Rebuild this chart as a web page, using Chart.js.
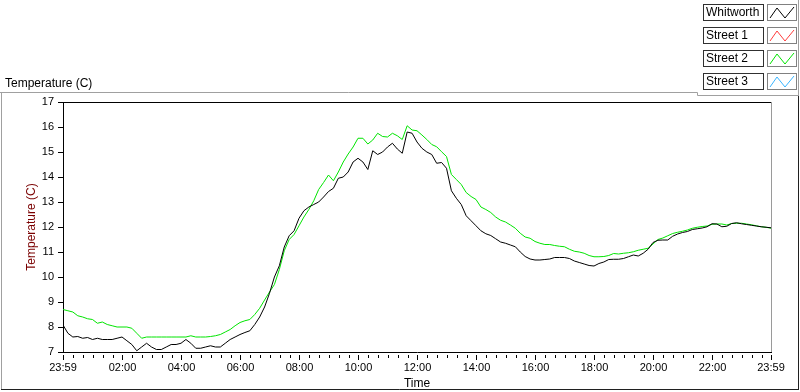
<!DOCTYPE html>
<html>
<head>
<meta charset="utf-8">
<script src="https://cdn.jsdelivr.net/npm/chart.js@4.4.0/dist/chart.umd.min.js"></script>
<style>
  html, body { margin: 0; padding: 0; background: #fff; }
  canvas { display: block; }
</style>
</head>
<body>
<canvas id="myChart" width="800" height="392"></canvas>
<script>
// sample grid: one reading every 10 minutes, starting 23:59 of the previous day
const sampleStart = -1;
const sampleStep = 10;

const seriesNames = ["Whitworth", "Street 1", "Street 2", "Street 3"];
const seriesColors = ["#000000", "#ff3c3c", "#00e400", "#38b4ff"];

const whitworth = [
  8.08, 7.75, 7.6, 7.62, 7.55, 7.58, 7.5, 7.55, 7.5, 7.5,
  7.5, 7.55, 7.6, 7.45, 7.3, 7.05, 7.2, 7.35, 7.2, 7.1,
  7.1, 7.2, 7.3, 7.3, 7.35, 7.5, 7.35, 7.15, 7.15, 7.2,
  7.25, 7.2, 7.2, 7.35, 7.5, 7.6, 7.7, 7.78, 7.85, 8.1,
  8.4, 8.8, 9.35, 10.0, 10.45, 11.2, 11.65, 11.85, 12.35, 12.65,
  12.8, 12.9, 13.0, 13.2, 13.42, 13.55, 13.95, 14.0, 14.2, 14.6,
  14.75, 14.6, 14.3, 15.05, 14.9, 15.0, 15.2, 15.35, 15.12, 14.95,
  15.8, 15.75, 15.4, 15.15, 15.0, 14.9, 14.55, 14.58, 14.35, 13.45,
  13.15, 12.9, 12.45, 12.25, 12.05, 11.85, 11.73, 11.66, 11.53, 11.4,
  11.35, 11.28, 11.21, 11.0, 10.82, 10.72, 10.68, 10.68, 10.7, 10.72,
  10.78, 10.78, 10.78, 10.74, 10.64, 10.58, 10.52, 10.46, 10.44, 10.54,
  10.6, 10.7, 10.71, 10.71, 10.74, 10.81, 10.88, 10.84, 10.95, 11.11,
  11.38, 11.47, 11.48, 11.48, 11.63, 11.72, 11.78, 11.82, 11.9, 11.93,
  11.96, 12.01, 12.13, 12.12, 12.01, 12.03, 12.14, 12.17, 12.13, 12.1,
  12.07, 12.04, 12.01, 11.99, 11.97
];
const street1 = [];
const street2 = [
  8.7, 8.65, 8.6, 8.45, 8.4, 8.33, 8.3, 8.15, 8.2, 8.1,
  8.05, 8.0, 8.0, 8.0, 7.95, 7.75, 7.55, 7.6, 7.6, 7.6,
  7.6, 7.6, 7.6, 7.6, 7.6, 7.6, 7.65, 7.6, 7.6, 7.6,
  7.62, 7.65, 7.7, 7.8, 7.9, 8.05, 8.18, 8.25, 8.3, 8.5,
  8.75, 9.08, 9.4, 9.7, 10.3, 11.05, 11.5, 11.7, 12.05, 12.4,
  12.7, 13.05, 13.5, 13.78, 14.08, 13.85, 14.2, 14.6, 14.92, 15.2,
  15.55, 15.55, 15.32, 15.48, 15.75, 15.62, 15.6, 15.75, 15.65, 15.5,
  16.05, 15.88, 15.85, 15.68, 15.5, 15.3, 15.21, 15.01, 14.82, 14.1,
  13.9, 13.7, 13.38, 13.22, 13.1, 12.8, 12.7, 12.58, 12.4, 12.27,
  12.2, 12.08, 11.95, 11.75, 11.6, 11.55, 11.42, 11.35, 11.3, 11.3,
  11.26, 11.23, 11.21, 11.11, 11.03, 11.0, 10.95, 10.86, 10.81, 10.81,
  10.82, 10.86, 10.94, 10.92, 10.95, 10.97, 11.01, 11.07, 11.11, 11.15,
  11.32, 11.5, 11.56, 11.65, 11.74, 11.79, 11.83, 11.88, 11.95, 11.99,
  12.02, 12.04, 12.11, 12.12, 12.12, 12.08, 12.14, 12.15, 12.15, 12.12,
  12.09, 12.05, 12.01, 11.99, 11.95
];
const street3 = [];

const yTicks = [7, 8, 9, 10, 11, 12, 13, 14, 15, 16, 17];
const xTicks = [-1, 120, 240, 360, 480, 600, 720, 840, 960, 1080, 1200, 1320, 1439];
const xTickLabels = ["23:59", "02:00", "04:00", "06:00", "08:00", "10:00", "12:00",
  "14:00", "16:00", "18:00", "20:00", "22:00", "23:59"];
const xMinorStep = 20;

const toPoints = (arr) => arr.map((v, i) => ({ x: sampleStart + i * sampleStep, y: v }));
const allSeries = [whitworth, street1, street2, street3];

// frame, plot border, minor/major x ticks and the LabVIEW-like legend
const decorations = {
  id: "decorations",
  afterDraw(chart) {
    const ctx = chart.ctx;
    const area = chart.chartArea;
    const xs = chart.scales.x;
    ctx.save();
    ctx.lineWidth = 1;

    // outer panel frame
    ctx.strokeStyle = "#a0a0a0";
    ctx.beginPath();
    ctx.moveTo(0, 92.5); ctx.lineTo(697.5, 92.5);
    ctx.moveTo(1.5, 92.5); ctx.lineTo(1.5, 390);
    ctx.stroke();
    ctx.strokeStyle = "#202020";
    ctx.beginPath();
    ctx.moveTo(1, 389.5); ctx.lineTo(798.5, 389.5);
    ctx.moveTo(798.5, 96); ctx.lineTo(798.5, 390);
    ctx.stroke();
    ctx.strokeStyle = "#a0a0a0";
    ctx.beginPath();
    ctx.moveTo(697.5, 92.5); ctx.lineTo(697.5, 95.5); ctx.lineTo(799, 95.5);
    ctx.moveTo(798.5, 0); ctx.lineTo(798.5, 96);
    ctx.stroke();

    // plot border: top black, right gray
    ctx.strokeStyle = "#000";
    ctx.beginPath();
    ctx.moveTo(area.left, area.top + 0.5); ctx.lineTo(area.right, area.top + 0.5);
    ctx.stroke();
    ctx.strokeStyle = "#9a9a9a";
    ctx.beginPath();
    ctx.moveTo(area.right + 0.5, area.top); ctx.lineTo(area.right + 0.5, area.bottom);
    ctx.stroke();

    // x ticks
    ctx.strokeStyle = "#000";
    ctx.beginPath();
    for (let m = 0; m <= xs.max; m += xMinorStep) {
      if (m % 120 === 0) continue;
      const px = Math.round(xs.getPixelForValue(m)) + 0.5;
      ctx.moveTo(px, area.bottom + 3); ctx.lineTo(px, area.bottom + 6);
    }
    xTicks.forEach((v) => {
      const px = Math.round(xs.getPixelForValue(v)) + 0.5;
      ctx.moveTo(px, area.bottom + 3); ctx.lineTo(px, area.bottom + 8);
    });
    ctx.stroke();

    // legend
    ctx.font = "12px 'Liberation Sans', Arial, sans-serif";
    ctx.textBaseline = "middle";
    chart.data.datasets.forEach((ds, i) => {
      const y0 = 4 + i * 23;
      ctx.fillStyle = "#fff";
      ctx.fillRect(703, y0, 60, 16);
      ctx.strokeStyle = "#303030";
      ctx.strokeRect(703.5, y0 + 0.5, 60, 16);
      ctx.fillStyle = "#000";
      ctx.fillText(ds.label, 706, y0 + 9);
      ctx.strokeStyle = "#808080";
      ctx.strokeRect(767.5, y0 + 0.5, 29, 16);
      ctx.strokeStyle = ds.borderColor;
      ctx.beginPath();
      ctx.moveTo(770, y0 + 14);
      ctx.lineTo(777, y0 + 4);
      ctx.lineTo(785, y0 + 14);
      ctx.lineTo(794, y0 + 3);
      ctx.stroke();
    });

    // panel caption
    ctx.fillStyle = "#000";
    ctx.textBaseline = "alphabetic";
    ctx.fillText("Temperature (C)", 5, 87);
    ctx.restore();
  }
};

new Chart(document.getElementById("myChart").getContext("2d"), {
  type: "line",
  data: {
    datasets: seriesNames.map((name, i) => ({
      label: name,
      data: toPoints(allSeries[i]),
      borderColor: seriesColors[i],
      backgroundColor: seriesColors[i],
      borderWidth: 1,
      pointRadius: 0,
      tension: 0,
      fill: false
    }))
  },
  options: {
    responsive: false,
    animation: false,
    layout: { padding: { left: 0, top: 102, right: 29, bottom: 0 } },
    plugins: { legend: { display: false }, tooltip: { enabled: false } },
    scales: {
      x: {
        type: "linear",
        min: -1,
        max: 1439,
        afterBuildTicks: (scale) => { scale.ticks = xTicks.map((v) => ({ value: v })); },
        afterFit: (scale) => { scale.height = 40; },
        grid: { display: false },
        border: { display: true, color: "#000", width: 1 },
        ticks: {
          autoSkip: false,
          maxRotation: 0,
          padding: 1,
          color: "#000",
          font: { family: "'Liberation Sans', Arial, sans-serif", size: 11 },
          callback: (value, index) => xTickLabels[index]
        },
        title: {
          display: true,
          text: "Time",
          color: "#000",
          padding: { top: 0, bottom: 1 },
          font: { family: "'Liberation Sans', Arial, sans-serif", size: 12 }
        }
      },
      y: {
        min: 7,
        max: 17,
        afterBuildTicks: (scale) => { scale.ticks = yTicks.map((v) => ({ value: v })); },
        afterFit: (scale) => { scale.width = 63; },
        grid: { drawOnChartArea: false, tickLength: 5, tickColor: "#000", color: "#000" },
        border: { display: true, color: "#000", width: 1 },
        ticks: {
          padding: 4,
          color: "#000",
          font: { family: "'Liberation Sans', Arial, sans-serif", size: 11 }
        },
        title: {
          display: true,
          text: "Temperature (C)",
          color: "#7a0000",
          padding: { top: 24, bottom: 0 },
          font: { family: "'Liberation Sans', Arial, sans-serif", size: 12 }
        }
      }
    }
  },
  plugins: [decorations]
});
</script>
</body>
</html>
